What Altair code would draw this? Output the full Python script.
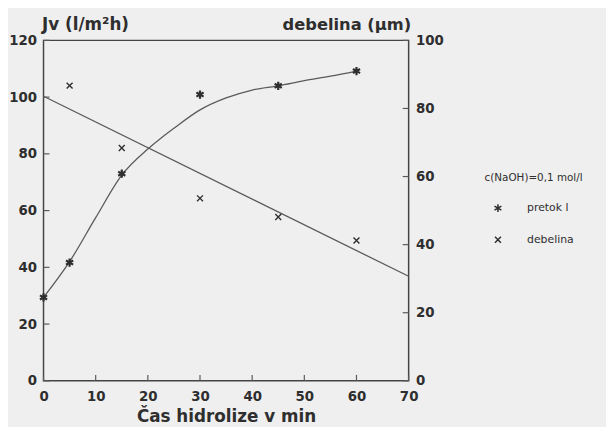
import altair as alt
import pandas as pd

# --- data ---
pretok_t = [0, 5, 15, 30, 45, 60]
pretok_jv = [29.4, 41.7, 73.0, 100.9, 104.0, 109.2]

deb_t = [5, 15, 30, 45, 60]
deb_um = [86.7, 68.4, 53.6, 48.1, 41.2]

curve_t = [0, 5, 10, 15, 20, 22.5, 25, 30, 35, 40, 45, 50, 55, 60]
curve_jv = [29.4, 42.0, 57.5, 72.5, 81.7, 85.5, 89.0, 95.5, 99.7, 102.5, 104.0, 105.8, 107.4, 109.2]

fit_t = [0, 70]
fit_um = [83.6, 30.7]

x_ticks = [0, 10, 20, 30, 40, 50, 60, 70]
left_ticks = [0, 20, 40, 60, 80, 100, 120]
right_ticks = [0, 20, 40, 60, 80, 100]

series = ["pretok l", "debelina"]
legend_title = "c(NaOH)=0,1 mol/l"

W, H = 370, 345
INK = "#2e2e2e"
LINE = "#5a5a5a"
FONT = "DejaVu Sans"

ASTERISK = "M0,-1L0,1M-0.87,-0.5L0.87,0.5M-0.87,0.5L0.87,-0.5"
XMARK = "M-0.75,-0.75L0.75,0.75M-0.75,0.75L0.75,-0.75"

curve_df = pd.DataFrame({"t": curve_t, "jv": curve_jv})
pretok_df = pd.DataFrame({"t": pretok_t, "jv": pretok_jv, "s": series[0]})
deb_df = pd.DataFrame({"t": deb_t, "deb": deb_um, "s": series[1]})
fit_df = pd.DataFrame({"t": fit_t, "deb": fit_um})
xt_df = pd.DataFrame({"t": x_ticks})
lt_df = pd.DataFrame({"jv": left_ticks})
rt_df = pd.DataFrame({"deb": right_ticks})

common_lab = dict(labelFont=FONT, labelFontSize=13.5, labelFontWeight="bold",
                  labelColor=INK, labelFlush=False, domain=False, ticks=False, grid=False,
                  titleFont=FONT, titleColor=INK, titleFontWeight="bold")

x_enc = alt.X("t:Q", scale=alt.Scale(domain=[0, 70], nice=False, zero=False),
              axis=alt.Axis(values=x_ticks, title="Čas hidrolize v min", labelPadding=9,
                            titleFontSize=17, titleY=41, titleBaseline="alphabetic",
                            **common_lab))

y_left_axis = alt.Axis(values=left_ticks, orient="left", title="Jv (l/m²h)", labelPadding=7,
                       titleFontSize=17, titleAngle=0, titleX=-2, titleY=-11,
                       titleAlign="left", titleBaseline="alphabetic", **common_lab)
y_left_scale = alt.Scale(domain=[0, 120], nice=False, zero=True)

y_right_axis = alt.Axis(values=right_ticks, orient="right", title="debelina (µm)", labelPadding=7,
                        titleFontSize=16.5, titleAngle=0, titleX=2, titleY=-11,
                        titleAlign="right", titleBaseline="alphabetic", **common_lab)
y_right_scale = alt.Scale(domain=[0, 100], nice=False, zero=True)

shape_scale = alt.Scale(domain=series, range=[ASTERISK, XMARK])
legend = alt.Legend(title=legend_title, orient="none", legendX=447, legendY=135,
                    titleFont=FONT, titleFontSize=10.5, titleFontWeight="normal", titleColor=INK,
                    titlePadding=19, titleLimit=400,
                    labelFont=FONT, labelFontSize=11, labelColor=INK, labelOffset=24,
                    symbolOffset=8, symbolSize=64, symbolStrokeColor=INK, symbolStrokeWidth=1.5,
                    symbolFillColor="transparent", rowPadding=18)

curve = alt.Chart(curve_df).mark_line(color=LINE, strokeWidth=1.3, interpolate="monotone").encode(
    x=x_enc, y=alt.Y("jv:Q", scale=y_left_scale, axis=y_left_axis))
pretok_pts = alt.Chart(pretok_df).mark_point(filled=False, size=70, strokeWidth=2.2, color=INK, opacity=1).encode(
    x=x_enc, y=alt.Y("jv:Q", scale=y_left_scale, axis=y_left_axis),
    shape=alt.Shape("s:N", scale=shape_scale, legend=legend))
left_tk = alt.Chart(lt_df).mark_rule(color=LINE, strokeWidth=1.2).encode(
    y=alt.Y("jv:Q", scale=y_left_scale, axis=y_left_axis), x=alt.value(0), x2=alt.value(6))
x_tk = alt.Chart(xt_df).mark_rule(color=LINE, strokeWidth=1.2).encode(
    x=x_enc, y=alt.value(H), y2=alt.value(H - 6))

fit = alt.Chart(fit_df).mark_line(color=LINE, strokeWidth=1.3).encode(
    x=x_enc, y=alt.Y("deb:Q", scale=y_right_scale, axis=y_right_axis))
deb_pts = alt.Chart(deb_df).mark_point(filled=False, size=64, strokeWidth=1.4, color=INK, opacity=1).encode(
    x=x_enc, y=alt.Y("deb:Q", scale=y_right_scale, axis=y_right_axis),
    shape=alt.Shape("s:N", scale=shape_scale, legend=legend))
right_tk = alt.Chart(rt_df).mark_rule(color=LINE, strokeWidth=1.2).encode(
    y=alt.Y("deb:Q", scale=y_right_scale, axis=y_right_axis), x=alt.value(W - 6), x2=alt.value(W))

left_group = alt.layer(curve, pretok_pts, left_tk, x_tk)
right_group = alt.layer(fit, deb_pts, right_tk)

chart = alt.layer(left_group, right_group).resolve_scale(y="independent").properties(
    width=W, height=H,
    autosize=alt.AutoSizeParams(type="none"),
    padding={"left": 36, "top": 30, "right": 200, "bottom": 44},
).configure(background="#efefef").configure_view(stroke="#444444", strokeWidth=1.5)

chart.save("out.html", embed_options={"renderer": "svg", "actions": False})
